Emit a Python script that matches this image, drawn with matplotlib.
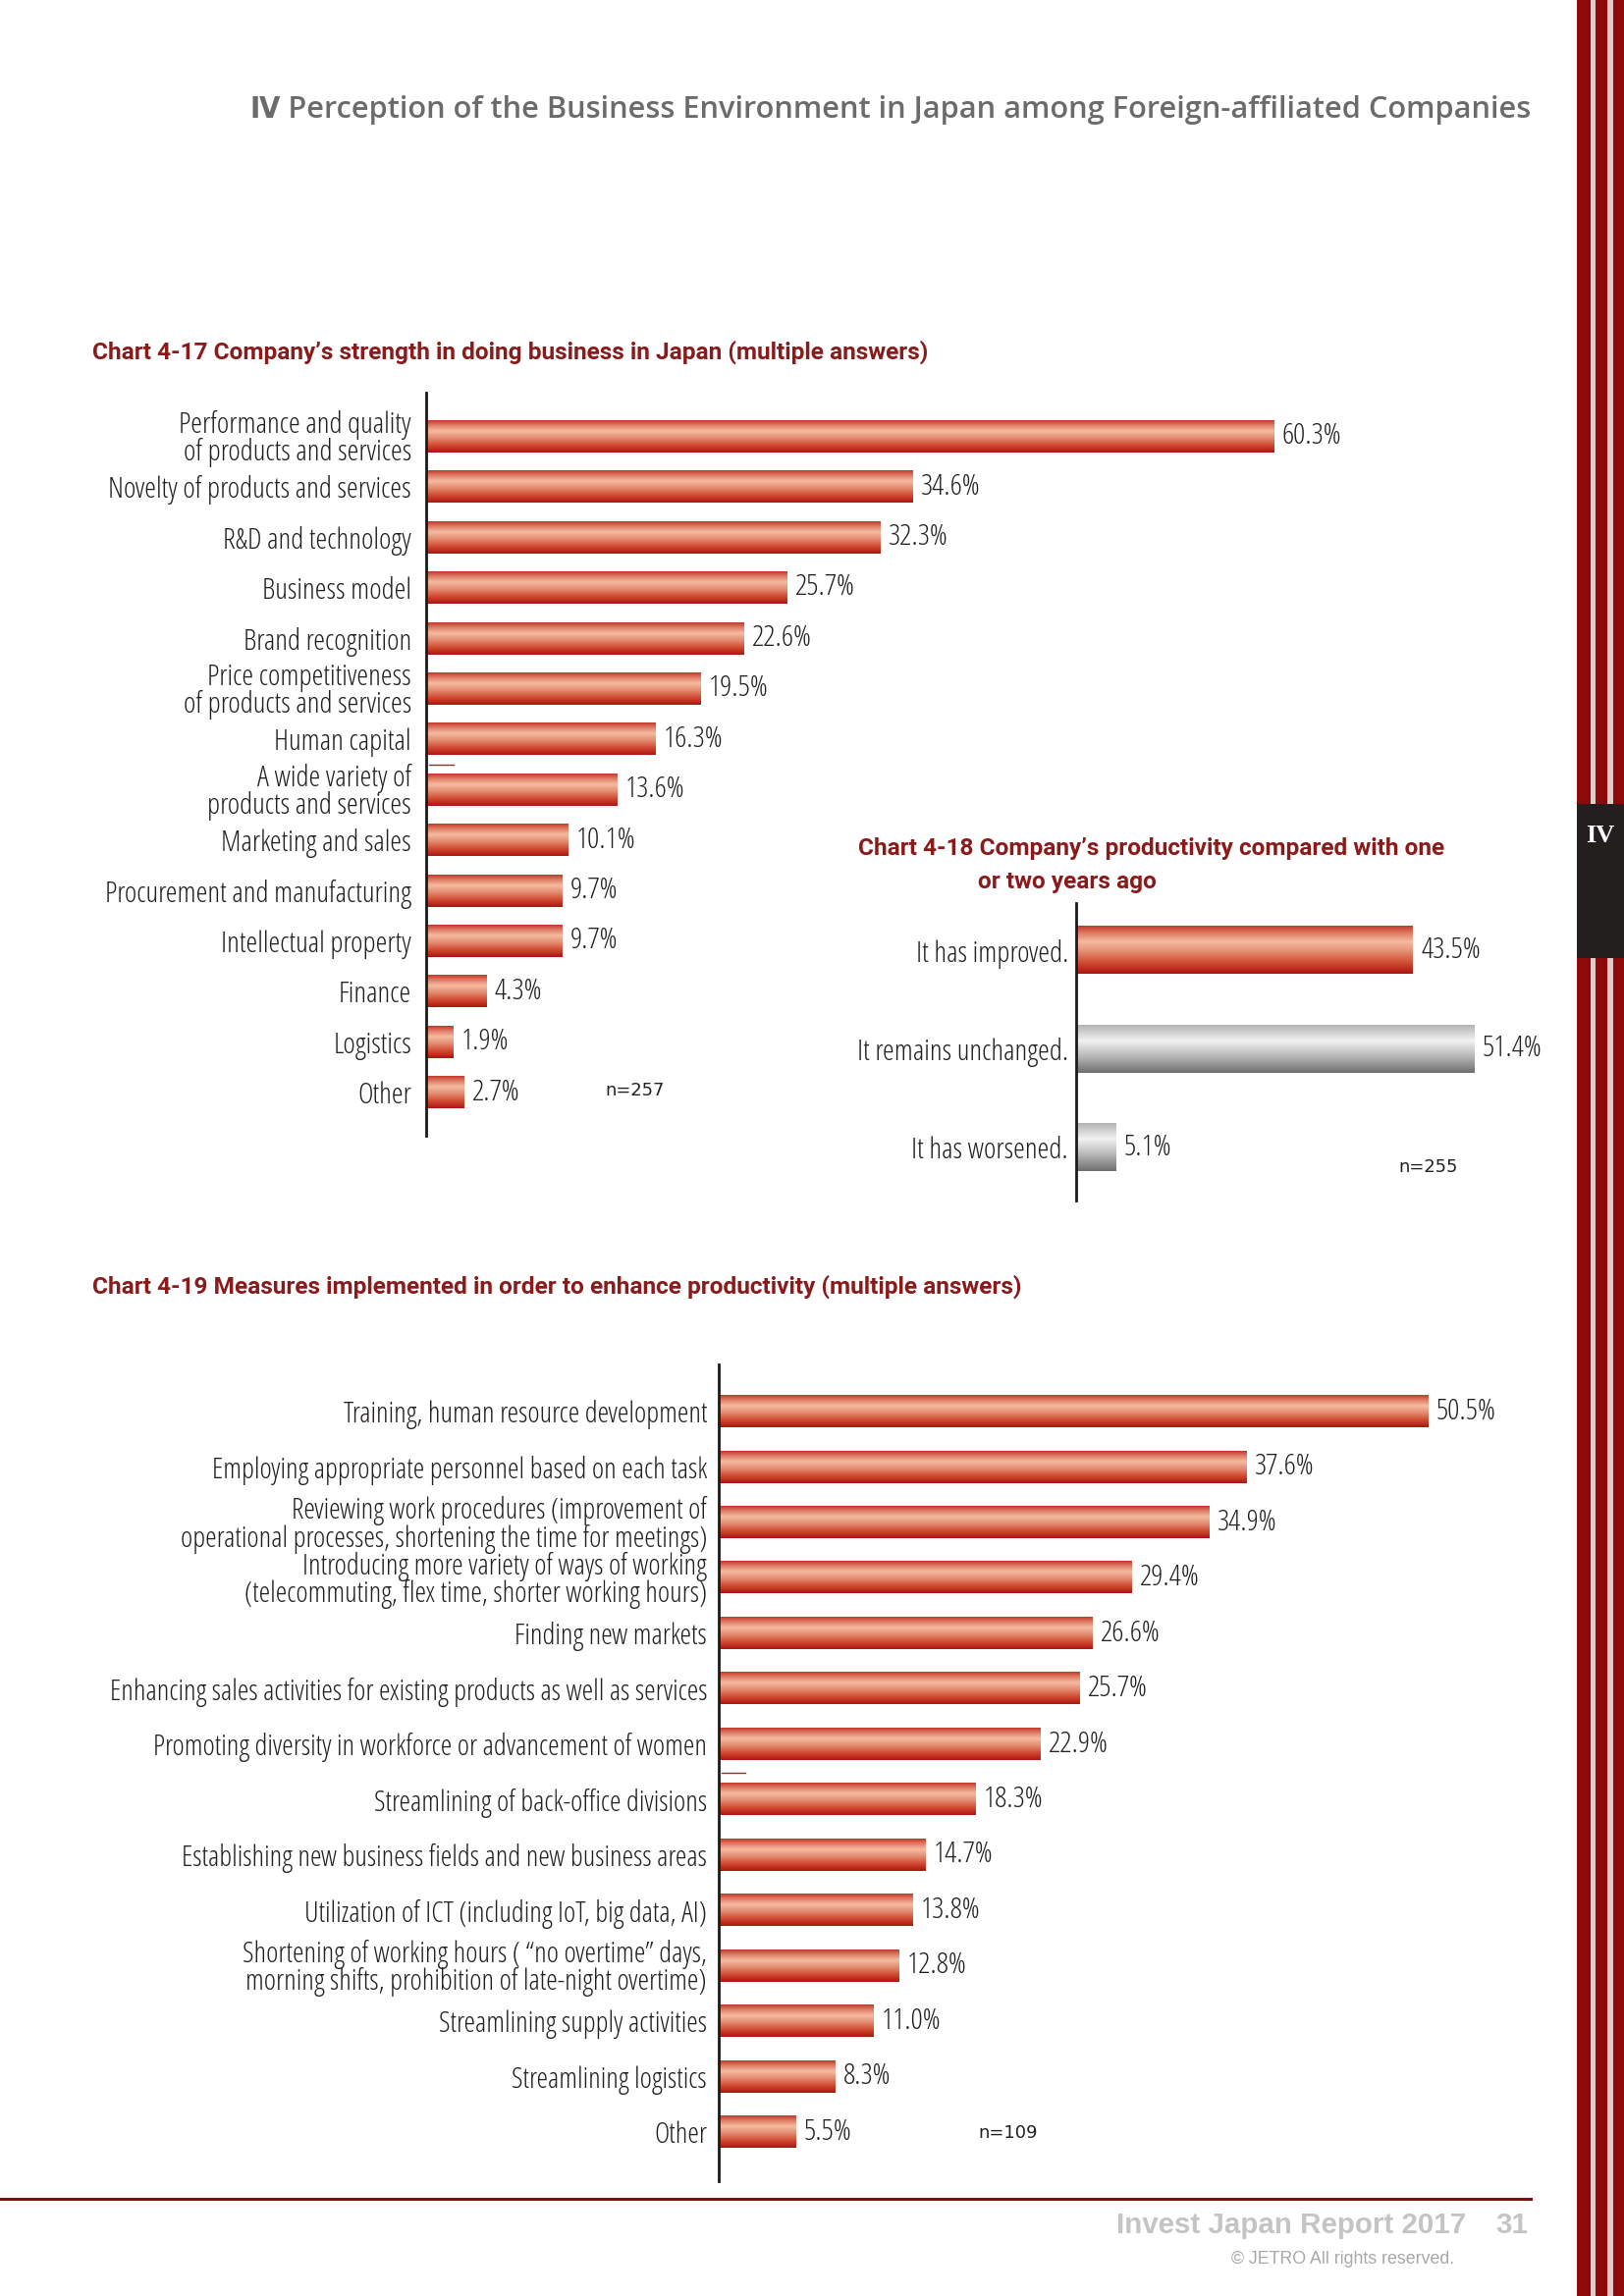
import numpy as np
import matplotlib
matplotlib.use('Agg')
import matplotlib.pyplot as plt
from matplotlib import font_manager as fm
from matplotlib.colors import LinearSegmentedColormap
from matplotlib.patches import Rectangle

# Chart 4-17 data
c17_labels = ['Performance and quality\nof products and services', 'Novelty of products and services',
              'R&D and technology', 'Business model', 'Brand recognition',
              'Price competitiveness\nof products and services', 'Human capital',
              'A wide variety of\nproducts and services', 'Marketing and sales',
              'Procurement and manufacturing', 'Intellectual property', 'Finance', 'Logistics', 'Other']
c17_values = [60.3, 34.6, 32.3, 25.7, 22.6, 19.5, 16.3, 13.6, 10.1, 9.7, 9.7, 4.3, 1.9, 2.7]

# Chart 4-18 data
c18_labels = ['It has improved.', 'It remains unchanged.', 'It has worsened.']
c18_values = [43.5, 51.4, 5.1]
c18_kind = ['red', 'gray', 'gray']

# Chart 4-19 data
c19_labels = ['Training, human resource development',
              'Employing appropriate personnel based on each task',
              'Reviewing work procedures (improvement of\noperational processes, shortening the time for meetings)',
              'Introducing more variety of ways of working\n(telecommuting, flex time, shorter working hours)',
              'Finding new markets',
              'Enhancing sales activities for existing products as well as services',
              'Promoting diversity in workforce or advancement of women',
              'Streamlining of back-office divisions',
              'Establishing new business fields and new business areas',
              'Utilization of ICT (including IoT, big data, AI)',
              'Shortening of working hours ( \u201cno overtime\u201d days,\nmorning shifts, prohibition of late-night overtime)',
              'Streamlining supply activities', 'Streamlining logistics', 'Other']
c19_values = [50.5, 37.6, 34.9, 29.4, 26.6, 25.7, 22.9, 18.3, 14.7, 13.8, 12.8, 11.0, 8.3, 5.5]

W, H = 1654, 2339
fig = plt.figure(figsize=(W / 100, H / 100), dpi=100)
renderer = fig.canvas.get_renderer()

SANS = ['Liberation Sans', 'DejaVu Sans']
TITLE = ['Roboto', 'Liberation Sans', 'DejaVu Sans']
TXT = '#231f20'
DARKRED = '#8b1a1a'


def text_width(s, fp):
    t = fig.text(0, 0, s, fontproperties=fp)
    w = t.get_window_extent(renderer).width
    t.remove()
    return w


# pick the narrowest sans font installed (the page uses a condensed face)
ok_prefix = ('Liberation Sans', 'DejaVu Sans', 'Noto Sans', 'Roboto', 'Open Sans', 'Lato', 'Inter')
cands = set()
for f in fm.fontManager.ttflist:
    if f.name.startswith(ok_prefix) and not any(k in f.name for k in ('Mono', 'CJK', 'Serif', 'Math', 'Symbol')):
        if f.style == 'normal':
            cands.add((f.name, f.stretch))
best = None
for name, stretch in sorted(cands):
    fp = fm.FontProperties(family=name, stretch=stretch, size=10)
    w = text_width('Novelty of products and services', fp)
    if best is None or w < best[0]:
        best = (w, name, stretch)
NARROW = [best[1], 'DejaVu Sans']
NSTRETCH = best[2]


def fit_size(s, width_px, **kw):
    # font size that makes string s about width_px wide
    t = fig.text(0, 0, s, fontsize=10, **kw)
    w = t.get_window_extent(renderer).width
    t.remove()
    return 10 * width_px / w


def px_axes(left, top, right, bottom):
    ax = fig.add_axes([left / W, 1 - bottom / H, (right - left) / W, (bottom - top) / H])
    ax.patch.set_visible(False)
    return ax


red_cmap = LinearSegmentedColormap.from_list('redbar', [
    (0.0, '#c0392a'), (0.15, '#e07a62'), (0.33, '#f5bba2'), (0.55, '#e38a70'),
    (0.78, '#d0492f'), (1.0, '#ad1410')])
gray_cmap = LinearSegmentedColormap.from_list('graybar', [
    (0.0, '#b4b4b4'), (0.33, '#f2f2f2'), (0.65, '#b8b8b8'), (1.0, '#6e6e6e')])
grad = np.linspace(0, 1, 256)[:, None]

# the condensed face is a bit taller than the original, so shrink slightly
SHRINK = 0.95
lab_size = SHRINK * fit_size('Novelty of products and services', 325, family=NARROW, fontstretch=NSTRETCH)
val_size = SHRINK * fit_size('60.3%', 63, family=NARROW, fontstretch=NSTRETCH)
n_size = fit_size('n=257', 60, family=['DejaVu Sans'])


def hbar_chart(ax, labels, values, height, xlim, ylim, pad_px, kinds=None, size=lab_size):
    y = np.arange(len(values))
    bars = ax.barh(y, values, height=height, color='none', edgecolor='none')
    for i, b in enumerate(bars):
        cm = gray_cmap if (kinds and kinds[i] == 'gray') else red_cmap
        x0, y0, w, h = b.get_x(), b.get_y(), b.get_width(), b.get_height()
        ax.imshow(grad, cmap=cm, extent=(x0, x0 + w, y0 + h, y0), aspect='auto',
                  interpolation='bilinear', zorder=2)
        ax.annotate(f'{values[i]:.1f}%', xy=(values[i], i), xytext=(6, 0),
                    textcoords='offset points', va='center', ha='left',
                    fontsize=val_size, family=NARROW, fontstretch=NSTRETCH, color=TXT)
    ax.set_xlim(*xlim)
    ax.set_ylim(*ylim)
    ax.set_yticks(y)
    ax.set_yticklabels(labels, fontsize=size, family=NARROW, fontstretch=NSTRETCH,
                       color=TXT, linespacing=0.92)
    ax.tick_params(axis='y', length=0, pad=pad_px * 0.72)
    ax.xaxis.set_visible(False)
    for s in ['top', 'right', 'bottom']:
        ax.spines[s].set_visible(False)
    ax.spines['left'].set_linewidth(2.0)
    ax.spines['left'].set_color('#1a1a1a')


# background axes in pixel coordinates for page decorations
bg = fig.add_axes([0, 0, 1, 1], zorder=-5)
bg.set_xlim(0, W)
bg.set_ylim(H, 0)
bg.axis('off')

# right side stripes
bg.add_patch(Rectangle((1606, 0), 48, H, color='#e6c9c9', lw=0))
for x0, w in [(1606, 14), (1625, 12), (1643, 11)]:
    bg.add_patch(Rectangle((x0, 0), w, H, color='#8e0a0a', lw=0))
bg.add_patch(Rectangle((1606, 819), 48, 157, color='#231f1f', lw=0))
bg.text(1630, 852, 'IV', color='white', fontsize=19, fontweight='bold',
        family=['Liberation Serif', 'DejaVu Serif'], ha='center', va='center')

# header
head = '\u2163 Perception of the Business Environment in Japan among Foreign-affiliated Companies'
bg.text(1559, 112, head, ha='right', va='center', color='#6b6b6b', fontweight='semibold',
        fontsize=fit_size(head, 1306, family=NARROW, fontstretch=NSTRETCH, fontweight='semibold'),
        family=NARROW, fontstretch=NSTRETCH)

# chart titles
t17 = 'Chart 4-17 Company\u2019s strength in doing business in Japan (multiple answers)'
tsize = fit_size(t17, 855, family=TITLE, fontweight='bold')
bg.text(94, 359, t17, ha='left', va='center', color=DARKRED, fontweight='bold', fontsize=tsize, family=TITLE)
bg.text(874, 865, 'Chart 4-18 Company\u2019s productivity compared with one', ha='left', va='center',
        color=DARKRED, fontweight='bold', fontsize=tsize, family=TITLE)
bg.text(996, 898, 'or two years ago', ha='left', va='center',
        color=DARKRED, fontweight='bold', fontsize=tsize, family=TITLE)
bg.text(94, 1311, 'Chart 4-19 Measures implemented in order to enhance productivity (multiple answers)',
        ha='left', va='center', color=DARKRED, fontweight='bold', fontsize=tsize, family=TITLE)

# small stray marks next to axes
bg.plot([437, 462], [779, 779], color='#7a3a30', lw=1)
bg.plot([735, 759], [1806, 1806], color='#7a3a30', lw=1)

# footer
bg.plot([0, 1559], [2240, 2240], color='#7a1010', lw=2.2)
fsize = fit_size('Invest Japan Report 2017', 355, family=SANS, fontweight='bold')
bg.text(1137, 2267, 'Invest Japan Report 2017', ha='left', va='center', color='#c4c4c4',
        fontweight='bold', fontsize=fsize, family=SANS)
bg.text(1556, 2267, '31', ha='right', va='center', color='#c4c4c4',
        fontweight='bold', fontsize=fsize, family=SANS)
csize = fit_size('\u00a9 JETRO All rights reserved.', 228, family=SANS)
bg.text(1481, 2301, '\u00a9 JETRO All rights reserved.', ha='right', va='center', color='#a8a8a8',
        fontsize=csize, family=SANS)

# Chart 4-17
ax1 = px_axes(434, 400, 1436, 1157)
hbar_chart(ax1, c17_labels, c17_values, 0.64, (0, 70), (13.86, -0.866), 15)
bg.text(616, 1111, 'n=257', ha='left', va='center', fontsize=n_size, color=TXT, family=['DejaVu Sans'])

# Chart 4-18
ax2 = px_axes(1096, 920, 1569, 1223)
hbar_chart(ax2, c18_labels, c18_values, 0.48, (0, 60), (2.537, -0.478), 8, kinds=c18_kind)
bg.text(1424, 1189, 'n=255', ha='left', va='center', fontsize=n_size, color=TXT, family=['DejaVu Sans'])

# Chart 4-19
c19_size = SHRINK * fit_size('Enhancing sales activities for existing products as well as services', 643,
                             family=NARROW, fontstretch=NSTRETCH)
ax3 = px_axes(732, 1390, 1590, 2222)
hbar_chart(ax3, c19_labels, c19_values, 0.57, (0, 60), (13.886, -0.85), 12, size=c19_size)
bg.text(996, 2173, 'n=109', ha='left', va='center', fontsize=n_size, color=TXT, family=['DejaVu Sans'])

fig.savefig('out.png', dpi=100, facecolor='white')
